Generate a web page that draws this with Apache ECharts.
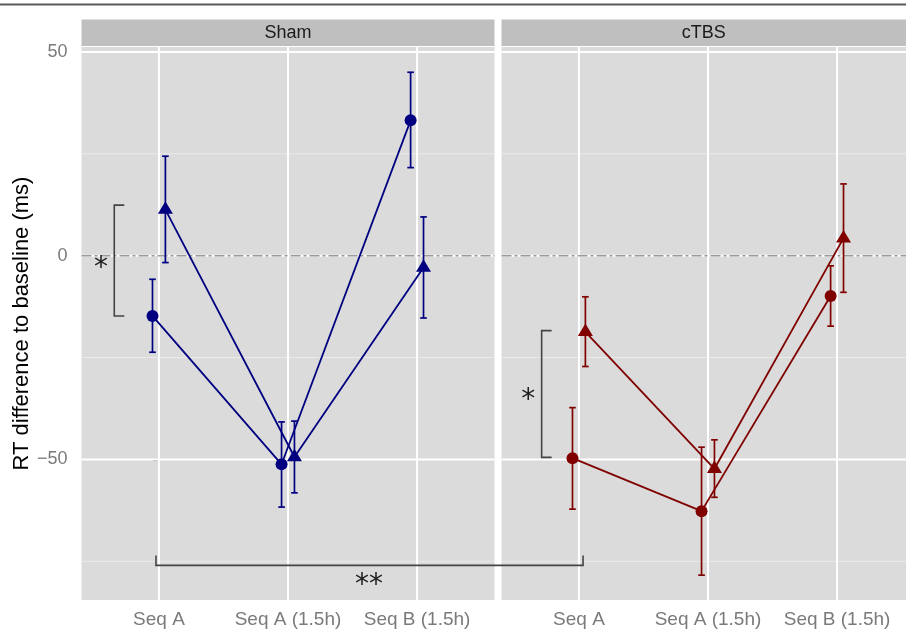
<!DOCTYPE html>
<html><head><meta charset="utf-8">
<script src="https://cdn.jsdelivr.net/npm/echarts@6/dist/echarts.min.js"></script>
<style>html,body{margin:0;padding:0;background:#fff}#c{width:906px;height:631px}</style>
</head><body><div id="c"></div>
<script>
// ---------- data ----------
const categories = ['Seq A', 'Seq A (1.5h)', 'Seq B (1.5h)'];
const panels = ['Sham', 'cTBS'];
const yTicks = [-50, 0, 50];
const yMinorTicks = [-75, -25, 25];
const refLine = [0];

const shamCircle      = [-14.8, -51.2, 33.2];
const shamCircleLow   = [-23.7, -61.7, 21.6];
const shamCircleHigh  = [-5.8, -40.8, 45.0];
const shamTriangle     = [11.3, -49.4, -2.9];
const shamTriangleLow  = [-1.7, -58.2, -15.3];
const shamTriangleHigh = [24.4, -40.6, 9.5];

const ctbsCircle      = [-49.7, -62.7, -9.9];
const ctbsCircleLow   = [-62.2, -78.4, -17.3];
const ctbsCircleHigh  = [-37.3, -47.0, -2.5];
const ctbsTriangle     = [-18.7, -52.3, 4.3];
const ctbsTriangleLow  = [-27.2, -59.3, -9.0];
const ctbsTriangleHigh = [-10.1, -45.2, 17.6];

// significance annotations (data units)
const shamBracket = [-0.346, 12.4, -14.8];      // x, top, bottom
const ctbsBracket = [-0.289, -18.4, -49.5];
const betweenBracket = [-0.023, 3.286, -76.0, -73.6]; // x1, x2 (Sham axis units), line y, tip y
const sigText = ['*', '*', '**'];
const sigPanel = [0, 1, 0];
const sigX = [-0.449, -0.392, 1.628];
const sigY = [-1.5, -33.8, -79.3];

// ---------- style / layout ----------
const NAVY = '#000080', DARKRED = '#800000';
const FONT = 'Liberation Sans, Arial, Helvetica, sans-serif';
const dodge = 0.05;
const G = [{left: 81.5, width: 413}, {left: 501.5, width: 404.5}];
const TOP = 47, HEIGHT = 553;
const XMIN = -0.6, UNIT = 413 / 3.2;
const YMIN = -84.5, YMAX = 51.2;

const pts = (vals, off) => vals.map((v, i) => [i + off, v]);
const errs = (lo, hi, off) => lo.map((l, i) => [i + off, l, hi[i]]);

function hLines(g, vals, stroke, lw, dash, z) {
  return {
    type: 'custom', xAxisIndex: g, yAxisIndex: g, z: z, silent: true,
    data: vals.map(v => [0, v]),
    renderItem: (p, api) => {
      const cs = p.coordSys; const y = api.coord([0, api.value(1)])[1];
      return {type: 'line', shape: {x1: cs.x, y1: y, x2: cs.x + cs.width, y2: y},
        style: {stroke: stroke, lineWidth: lw, lineDash: dash || null}};
    }
  };
}
function vLines(g, vals, stroke, lw, z) {
  return {
    type: 'custom', xAxisIndex: g, yAxisIndex: g, z: z, silent: true,
    data: vals.map(v => [v, 0]),
    renderItem: (p, api) => {
      const cs = p.coordSys; const x = api.coord([api.value(0), 0])[0];
      return {type: 'line', shape: {x1: x, y1: cs.y, x2: x, y2: cs.y + cs.height},
        style: {stroke: stroke, lineWidth: lw}};
    }
  };
}
function errorBars(g, data, color) {
  return {
    type: 'custom', xAxisIndex: g, yAxisIndex: g, z: 3, silent: true, data: data,
    renderItem: (p, api) => {
      const x = api.value(0);
      const lo = api.coord([x, api.value(1)]), hi = api.coord([x, api.value(2)]);
      const cap = 3.3, st = {stroke: color, lineWidth: 1.7};
      return {type: 'group', children: [
        {type: 'line', shape: {x1: lo[0], y1: lo[1], x2: hi[0], y2: hi[1]}, style: st},
        {type: 'line', shape: {x1: lo[0] - cap, y1: lo[1], x2: lo[0] + cap, y2: lo[1]}, style: st},
        {type: 'line', shape: {x1: hi[0] - cap, y1: hi[1], x2: hi[0] + cap, y2: hi[1]}, style: st}
      ]};
    }
  };
}
function lineSeries(g, data, color, shape) {
  return {
    type: 'line', xAxisIndex: g, yAxisIndex: g, z: 4, data: data,
    symbol: shape, symbolSize: shape === 'triangle' ? [15, 12.5] : 12,
    symbolOffset: shape === 'triangle' ? [0, -2] : [0, 0],
    showSymbol: true, silent: true,
    lineStyle: {color: color, width: 1.8}, itemStyle: {color: color, opacity: 1}
  };
}
function bracketSeries(g, b) {
  return {
    type: 'custom', xAxisIndex: g, yAxisIndex: g, z: 4, silent: true, data: [b],
    renderItem: (p, api) => {
      const t = api.coord([api.value(0), api.value(1)]);
      const bt = api.coord([api.value(0), api.value(2)]);
      const tick = 10;
      return {type: 'polyline', shape: {points: [[t[0] + tick, t[1]], t, bt, [bt[0] + tick, bt[1]]]},
        style: {stroke: '#444', lineWidth: 1.6, fill: null}};
    }
  };
}
const betweenSeries = {
  type: 'custom', xAxisIndex: 0, yAxisIndex: 0, z: 4, silent: true, clip: false, data: [betweenBracket],
  renderItem: (p, api) => {
    const a = api.coord([api.value(0), api.value(3)]), b = api.coord([api.value(0), api.value(2)]);
    const c = api.coord([api.value(1), api.value(2)]), d = api.coord([api.value(1), api.value(3)]);
    return {type: 'polyline', shape: {points: [a, b, c, d]}, style: {stroke: '#444', lineWidth: 1.6, fill: null}};
  }
};
function sigSeries(g) {
  const idx = sigPanel.map((pp, i) => i).filter(i => sigPanel[i] === g);
  return {
    type: 'custom', xAxisIndex: g, yAxisIndex: g, z: 4, silent: true, clip: false,
    data: idx.map(i => [sigX[i], sigY[i], i]),
    renderItem: (p, api) => {
      const c = api.coord([api.value(0), api.value(1)]);
      return {type: 'text', x: c[0], y: c[1] + 7,
        style: {text: sigText[api.value(2)], fill: '#1e1e1e', font: '28px DejaVu Sans, sans-serif',
          align: 'center', verticalAlign: 'middle'}};
    }
  };
}

const xAxes = [0, 1].map(g => ({
  type: 'value', gridIndex: g, min: XMIN, max: XMIN + G[g].width / UNIT,
  splitLine: {show: false}, axisLine: {show: false},
  axisTick: {show: true, customValues: [0, 1, 2], length: 6, lineStyle: {color: '#7f7f7f', width: 1.5}},
  axisLabel: {show: true, customValues: [0, 1, 2], formatter: v => categories[Math.round(v)] || '',
    margin: 10, fontSize: 19, color: '#7a7a7a', fontFamily: FONT}
}));
const yAxes = [0, 1].map(g => ({
  type: 'value', gridIndex: g, min: YMIN, max: YMAX,
  splitLine: {show: false}, axisLine: {show: false},
  axisTick: {show: g === 0, customValues: yTicks, length: 6, lineStyle: {color: '#7f7f7f', width: 1.5}},
  axisLabel: {show: g === 0, customValues: yTicks, margin: 14, fontSize: 18, color: '#7a7a7a', fontFamily: FONT,
    formatter: v => String(v).replace('-', '\u2212')},
  name: g === 0 ? 'RT difference to baseline (ms)' : '',
  nameLocation: 'middle', nameGap: 47,
  nameTextStyle: {fontSize: 22, color: '#000', fontFamily: FONT}
}));

const series = [];
const groups = [
  [shamCircle, shamCircleLow, shamCircleHigh, shamTriangle, shamTriangleLow, shamTriangleHigh, NAVY],
  [ctbsCircle, ctbsCircleLow, ctbsCircleHigh, ctbsTriangle, ctbsTriangleLow, ctbsTriangleHigh, DARKRED]
];
[0, 1].forEach(g => {
  const [c, cl, ch, t, tl, th, col] = groups[g];
  series.push(hLines(g, yMinorTicks, '#ebebeb', 1, null, 1));
  series.push(hLines(g, yTicks, '#ffffff', 2, null, 1));
  series.push(vLines(g, [0, 1, 2], '#ffffff', 2, 1));
  series.push(hLines(g, refLine, '#9a9a9a', 1.5, [10, 3, 3, 3], 2));
  series.push(errorBars(g, errs(cl, ch, -dodge), col));
  series.push(errorBars(g, errs(tl, th, dodge), col));
  series.push(lineSeries(g, pts(c, -dodge), col, 'circle'));
  series.push(lineSeries(g, pts(t, dodge), col, 'triangle'));
  series.push(sigSeries(g));
});
series.push(bracketSeries(0, shamBracket));
series.push(bracketSeries(1, ctbsBracket));
series.push(betweenSeries);

const graphic = [
  {type: 'line', shape: {x1: 0, y1: 4.5, x2: 906, y2: 4.5}, style: {stroke: '#5a5a5a', lineWidth: 2}, z: 10}
];
[0, 1].forEach(g => {
  graphic.push({type: 'rect', shape: {x: G[g].left, y: 19.5, width: G[g].width, height: 26.5},
    style: {fill: '#bfbfbf'}, z: 1});
  graphic.push({type: 'text', x: G[g].left + Math.min(G[g].width, 413) / 2, y: 33,
    style: {text: panels[g], fill: '#1a1a1a', font: '18px ' + FONT, align: 'center', verticalAlign: 'middle'}, z: 2});
});

const chart = echarts.init(document.getElementById('c'), null, {renderer: 'canvas'});
chart.setOption({
  animation: false,
  backgroundColor: '#ffffff',
  grid: [0, 1].map(g => ({left: G[g].left, top: TOP, width: G[g].width, height: HEIGHT,
    show: true, backgroundColor: '#dbdbdb', borderWidth: 0, z: 0})),
  xAxis: xAxes, yAxis: yAxes,
  series: series,
  graphic: graphic
});
</script></body></html>
